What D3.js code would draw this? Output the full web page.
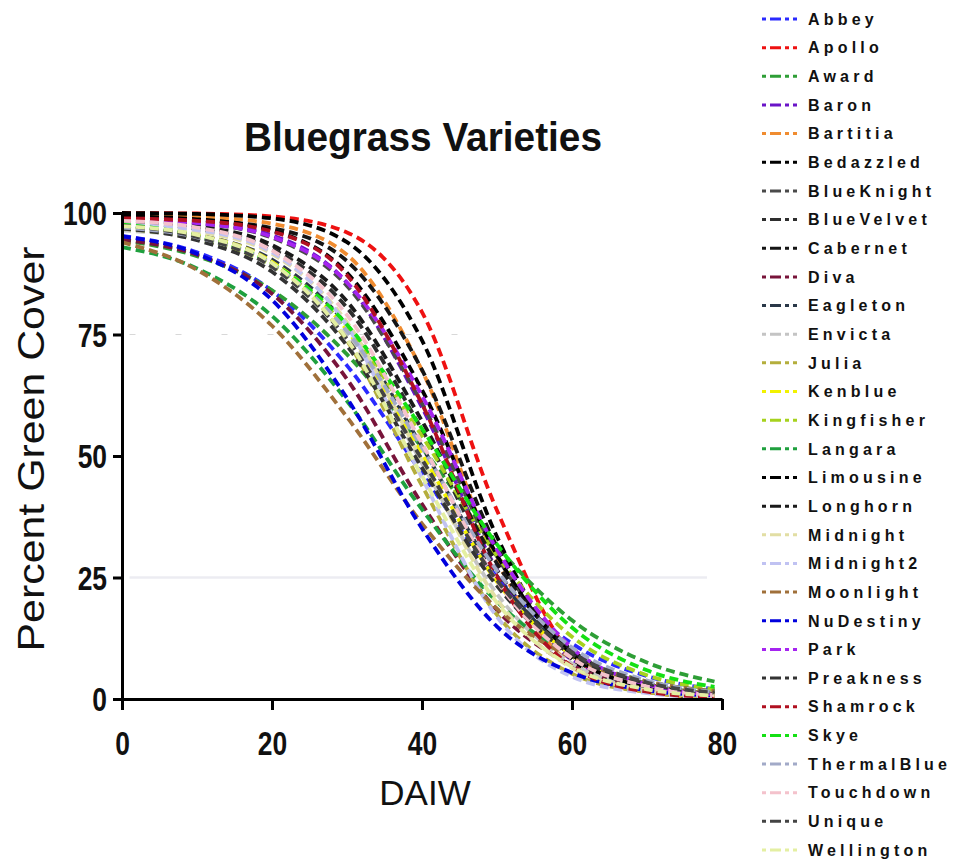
<!DOCTYPE html>
<html>
<head>
<meta charset="utf-8">
<script src="https://cdn.jsdelivr.net/npm/d3@7"></script>
<style>
  body { margin: 0; background: #fff; }
  .tick text { font-family: "Liberation Sans", Arial, sans-serif; font-weight: bold; }
</style>
</head>
<body>
<div id="chart"></div>
<script>
// --- Layout configuration ---
const width = 962;
const height = 867;

// DAIW sample days
const days = [0, 10, 20, 30, 40, 50, 60, 70, 79];

const varieties = [
  "Abbey", "Apollo", "Award", "Baron", "Bartitia", "Bedazzled", "BlueKnight",
  "BlueVelvet", "Cabernet", "Diva", "Eagleton", "Envicta", "Julia", "Kenblue",
  "Kingfisher", "Langara", "Limousine", "Longhorn", "Midnight", "Midnight2",
  "Moonlight", "NuDestiny", "Park", "Preakness", "Shamrock", "Skye",
  "ThermalBlue", "Touchdown", "Unique", "Wellington"
];

const varietyColors = [
  "#2a2aff", "#ee1111", "#2e9e36", "#6a14c8", "#f08c30", "#000000", "#4a4a4a",
  "#2e2e2e", "#151515", "#78143a", "#2a3848", "#c4c4c4", "#b4ae3c", "#f2f200",
  "#a6d21e", "#1fa03e", "#000000", "#1a1a1a", "#e2dea4", "#c0c2f2",
  "#a0703a", "#0000dd", "#a524f0", "#333333", "#b01020", "#14e014",
  "#a2aac8", "#f4c2cc", "#444444", "#e4efa2"
];

// percent green cover at each day, one row per variety (same order)
const coverValues = [
  [95.3, 91.9, 84.0, 68.6, 46.4, 25.1, 11.4, 4.7, 2.0],
  [100.0, 99.9, 99.3, 96.0, 79.6, 38.8, 9.3, 1.6, 0.3],
  [94.4, 91.1, 84.1, 70.9, 51.7, 31.4, 16.2, 7.5, 3.6],
  [98.8, 98.1, 95.4, 85.6, 60.0, 26.6, 8.0, 2.0, 0.6],
  [99.4, 99.2, 97.8, 91.4, 67.6, 28.4, 7.0, 1.4, 0.3],
  [100.0, 99.8, 98.9, 94.0, 73.8, 33.4, 8.2, 1.6, 0.3],
  [98.7, 97.9, 94.9, 85.0, 60.8, 29.3, 9.9, 2.8, 0.9],
  [98.0, 96.7, 92.6, 80.5, 55.4, 26.5, 9.4, 2.9, 1.0],
  [98.9, 98.5, 96.9, 90.1, 67.7, 31.3, 8.9, 2.1, 0.5],
  [94.5, 91.4, 83.4, 65.8, 40.1, 18.3, 6.9, 2.4, 0.9],
  [97.2, 95.5, 90.4, 76.9, 51.9, 25.3, 9.5, 3.1, 1.1],
  [96.4, 94.8, 89.6, 75.4, 48.5, 21.6, 7.3, 2.2, 0.7],
  [96.9, 95.4, 89.9, 73.7, 43.9, 17.3, 5.2, 1.4, 0.4],
  [97.2, 95.4, 89.9, 75.9, 50.4, 24.1, 9.0, 3.0, 1.0],
  [96.8, 94.7, 89.2, 76.4, 54.1, 29.5, 12.8, 4.9, 2.0],
  [93.0, 88.6, 78.8, 61.3, 39.0, 20.0, 8.9, 3.6, 1.6],
  [99.3, 98.7, 96.4, 87.7, 63.6, 29.6, 9.2, 2.4, 0.7],
  [98.5, 97.3, 93.4, 81.8, 57.2, 27.9, 10.0, 3.1, 1.0],
  [97.5, 96.2, 91.6, 77.5, 49.0, 20.5, 6.4, 1.8, 0.5],
  [97.6, 96.5, 91.9, 76.8, 45.5, 16.9, 4.6, 1.2, 0.3],
  [94.0, 88.3, 76.8, 58.0, 36.1, 18.6, 8.5, 3.6, 1.6],
  [95.2, 91.6, 82.1, 61.9, 35.1, 14.9, 5.4, 1.8, 0.7],
  [98.7, 97.9, 95.1, 85.7, 62.4, 30.7, 10.5, 3.0, 0.9],
  [96.8, 94.4, 87.9, 72.7, 47.6, 23.3, 9.1, 3.2, 1.2],
  [98.9, 98.4, 96.2, 87.2, 60.7, 25.2, 6.7, 1.5, 0.4],
  [97.6, 95.3, 89.6, 77.0, 55.6, 31.8, 14.7, 5.9, 2.5],
  [97.0, 95.0, 89.3, 75.7, 51.7, 26.4, 10.6, 3.8, 1.4],
  [98.4, 97.0, 92.3, 79.0, 52.6, 24.3, 8.4, 2.6, 0.8],
  [97.4, 95.1, 88.9, 74.1, 49.3, 24.4, 9.6, 3.4, 1.3],
  [97.3, 95.5, 89.7, 74.0, 45.9, 19.8, 6.6, 2.0, 0.7]
];

const xTicks = [0, 20, 40, 60, 80];
const yTicks = [0, 25, 50, 75, 100];

// --- SVG setup ---
const svg = d3
  .select("#chart")
  .append("svg")
  .attr("width", width)
  .attr("height", height);

const x = d3.scaleLinear().domain([0, 80]).range([122, 722]);
const y = d3.scaleLinear().domain([0, 100]).range([699, 213]);

// faint leftover grid lines seen in the original
svg.append("line")
  .attr("x1", x(1)).attr("x2", x(78))
  .attr("y1", y(25)).attr("y2", y(25))
  .attr("stroke", "#ececf2").attr("stroke-width", 2.5);
svg.append("line")
  .attr("x1", x(1)).attr("x2", x(49))
  .attr("y1", y(75)).attr("y2", y(75))
  .attr("stroke", "#d8d8d8").attr("stroke-width", 1)
  .attr("stroke-dasharray", "6,40");

// --- Curves ---
const line = d3.line()
  .x((d, i) => x(days[i]))
  .y((d) => y(d))
  .curve(d3.curveMonotoneX);

svg.append("g")
  .selectAll("path")
  .data(coverValues)
  .join("path")
  .attr("d", line)
  .attr("fill", "none")
  .attr("stroke", (d, i) => varietyColors[i])
  .attr("stroke-width", 3.8)
  .attr("stroke-dasharray", "9,5");

// --- Axes ---
const xAxis = svg.append("g")
  .attr("transform", `translate(0,${y(0)})`)
  .call(d3.axisBottom(x).tickValues(xTicks).tickSize(11).tickSizeOuter(0).tickPadding(22));
const yAxis = svg.append("g")
  .attr("transform", `translate(${x(0)},0)`)
  .call(d3.axisLeft(y).tickValues(yTicks).tickSize(9).tickSizeOuter(0).tickPadding(6));

// narrow the bold digits like the original's condensed face
const squeeze = 0.8;
[xAxis, yAxis].forEach((g) => {
  g.select(".domain").attr("stroke", "#000").attr("stroke-width", 3);
  g.selectAll(".tick line").attr("stroke", "#000").attr("stroke-width", 3);
  g.selectAll(".tick text")
    .attr("fill", "#111")
    .style("font-size", "33px")
    .attr("transform", `scale(${squeeze},1)`);
});
yAxis.selectAll(".tick text").attr("dy", "0.36em").attr("x", -15 / squeeze);

// --- Titles ---
svg.append("text")
  .attr("x", 423)
  .attr("y", 151)
  .attr("text-anchor", "middle")
  .attr("textLength", 358)
  .attr("lengthAdjust", "spacingAndGlyphs")
  .style("font-family", "'Liberation Sans', sans-serif")
  .style("font-weight", "bold")
  .style("font-size", "40px")
  .attr("fill", "#111")
  .text("Bluegrass Varieties");

svg.append("text")
  .attr("x", 425)
  .attr("y", 805)
  .attr("text-anchor", "middle")
  .style("font-family", "'Liberation Sans', sans-serif")
  .style("font-size", "35px")
  .attr("fill", "#111")
  .text("DAIW");

svg.append("text")
  .attr("transform", "translate(44,449) rotate(-90)")
  .attr("text-anchor", "middle")
  .attr("textLength", 405)
  .attr("lengthAdjust", "spacingAndGlyphs")
  .style("font-family", "'Liberation Sans', sans-serif")
  .style("font-size", "36px")
  .attr("fill", "#111")
  .text("Percent Green Cover");

// --- Legend ---
const legendStep = (850 - 19) / (varieties.length - 1);
const legend = svg.append("g")
  .selectAll("g")
  .data(varieties)
  .join("g")
  .attr("transform", (d, i) => `translate(0,${19 + i * legendStep})`);

legend.append("line")
  .attr("x1", 762).attr("x2", 797)
  .attr("stroke", (d, i) => varietyColors[i])
  .attr("stroke-width", 3)
  .attr("stroke-dasharray", "4,4,11,4,4");

legend.append("text")
  .attr("x", 808)
  .attr("dy", "0.36em")
  .style("font-family", "'Liberation Sans', sans-serif")
  .style("font-weight", "bold")
  .style("font-size", "16px")
  .style("letter-spacing", "4.2px")
  .attr("fill", "#111")
  .text((d) => d);
</script>
</body>
</html>
